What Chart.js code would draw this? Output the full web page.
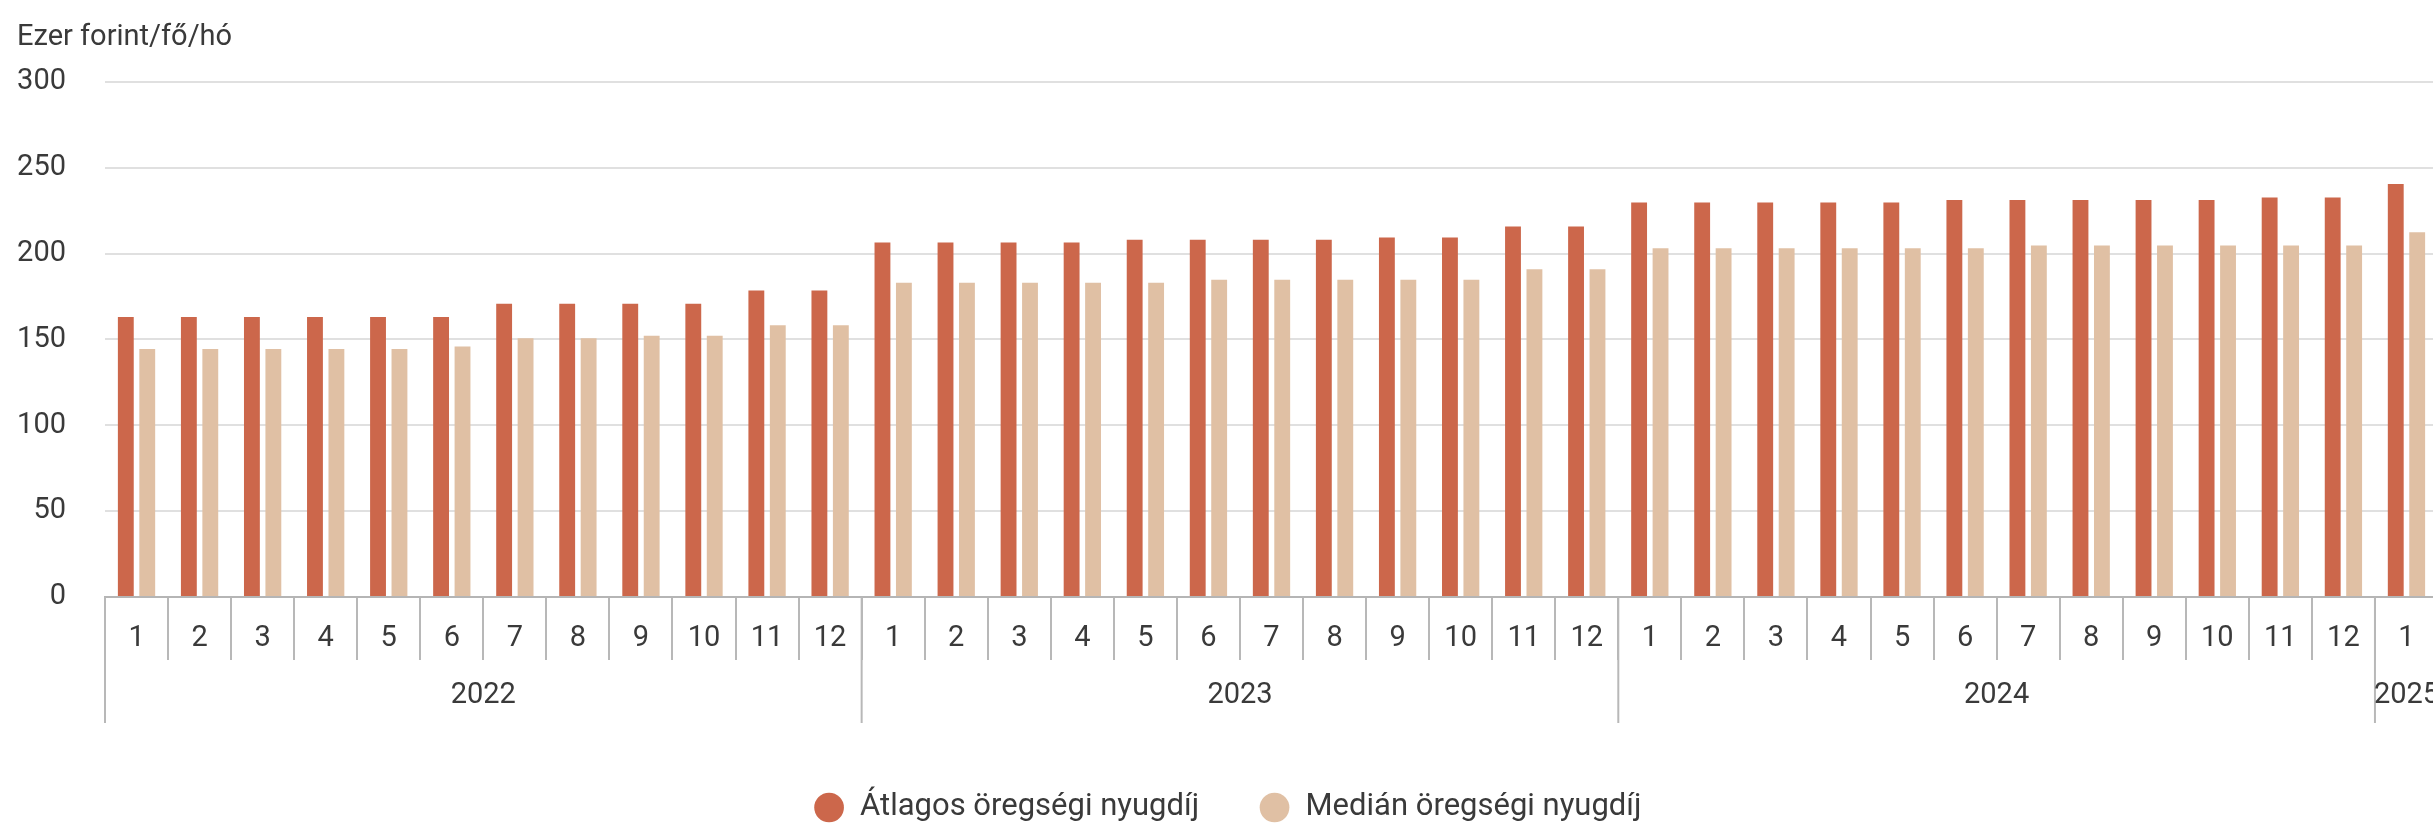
<!DOCTYPE html>
<html>
<head>
<meta charset="utf-8">
<script src="https://cdn.jsdelivr.net/npm/chart.js@4/dist/chart.umd.min.js"></script>
<style>
  html, body { margin: 0; padding: 0; background: #fff; overflow: hidden; }
  #wrap { width: 2446px; height: 826px; position: relative; }
</style>
</head>
<body>
<div id="wrap"><canvas id="chart"></canvas></div>
<script>
// honap + ev kategoriak
const months = ['1','2','3','4','5','6','7','8','9','10','11','12',
                '1','2','3','4','5','6','7','8','9','10','11','12',
                '1','2','3','4','5','6','7','8','9','10','11','12',
                '1'];
const years = ['2022','2022','2022','2022','2022','2022','2022','2022','2022','2022','2022','2022',
               '2023','2023','2023','2023','2023','2023','2023','2023','2023','2023','2023','2023',
               '2024','2024','2024','2024','2024','2024','2024','2024','2024','2024','2024','2024',
               '2025'];

const atlagos = [163, 163, 163, 163, 163, 163, 170.8, 170.8, 170.8, 170.8, 178.5, 178.5,
                 206.4, 206.4, 206.4, 206.4, 208, 208, 208, 208, 209.3, 209.3, 215.7, 215.7,
                 229.7, 229.7, 229.7, 229.7, 229.7, 231.2, 231.2, 231.2, 231.2, 231.2, 232.7, 232.7,
                 240.5];
const median = [144.4, 144.4, 144.4, 144.4, 144.4, 145.9, 150.6, 150.6, 152.1, 152.1, 158.3, 158.3,
                183, 183, 183, 183, 183, 184.7, 184.7, 184.7, 184.7, 184.7, 190.9, 190.9,
                203.1, 203.1, 203.1, 203.1, 203.1, 203.1, 204.7, 204.7, 204.7, 204.7, 204.7, 204.7,
                212.4];

const yTicks = [0, 50, 100, 150, 200, 250, 300];

const textColor = '#3a3a3a';
const fontFamily = 'Roboto, "Liberation Sans", sans-serif';

// evek kiirasa a honapok alatt
const yearBands = {
    id: 'yearBands',
    afterDraw(chart) {
        const x = chart.scales.x;
        const ctx = chart.ctx;
        const half = (x.getPixelForValue(1) - x.getPixelForValue(0)) / 2;
        ctx.save();
        ctx.strokeStyle = '#b8b8b8';
        ctx.lineWidth = 2;
        ctx.fillStyle = textColor;
        ctx.font = '29px ' + fontFamily;
        ctx.textAlign = 'center';
        ctx.textBaseline = 'middle';
        let start = 0;
        for (let i = 1; i <= years.length; i++) {
            if (i === years.length || years[i] !== years[start]) {
                const left = x.getPixelForValue(start) - half;
                const right = x.getPixelForValue(i - 1) + half;
                ctx.beginPath();
                ctx.moveTo(left, x.top);
                ctx.lineTo(left, x.top + 126);
                ctx.stroke();
                ctx.fillText(years[start], (left + right) / 2, x.top + 99);
                start = i;
            }
        }
        ctx.restore();
    }
};

new Chart(document.getElementById('chart'), {
    type: 'bar',
    data: {
        labels: months,
        datasets: [{
            label: 'Átlagos öregségi nyugdíj',
            data: atlagos,
            backgroundColor: '#cc674b',
            categoryPercentage: 0.68,
            barPercentage: 0.74
        }, {
            label: 'Medián öregségi nyugdíj',
            data: median,
            backgroundColor: '#e0c0a4',
            categoryPercentage: 0.68,
            barPercentage: 0.74
        }]
    },
    options: {
        responsive: true,
        maintainAspectRatio: false,
        animation: false,
        layout: { padding: { left: 17, right: 8, top: 0, bottom: 0 } },
        plugins: {
            tooltip: { enabled: false },
            title: {
                display: true,
                text: 'Ezer forint/fő/hó',
                align: 'start',
                color: textColor,
                font: { family: fontFamily, size: 29, weight: 'normal' },
                padding: { top: 20, bottom: 27 }
            },
            legend: {
                position: 'bottom',
                maxHeight: 94,
                labels: {
                    usePointStyle: true,
                    pointStyle: 'circle',
                    boxWidth: 34,
                    boxHeight: 21,
                    padding: 60,
                    color: textColor,
                    font: { family: fontFamily, size: 31 }
                }
            }
        },
        scales: {
            x: {
                offset: true,
                afterFit: (scale) => { scale.height = 135; },
                grid: {
                    offset: true,
                    drawOnChartArea: false,
                    drawTicks: true,
                    tickLength: 63,
                    color: '#b8b8b8',
                    lineWidth: 2
                },
                border: { color: '#b5b5b5', width: 2 },
                ticks: {
                    padding: -39,
                    autoSkip: false,
                    maxRotation: 0,
                    color: textColor,
                    font: { family: fontFamily, size: 29 }
                }
            },
            y: {
                min: 0,
                max: 300,
                afterBuildTicks: (scale) => { scale.ticks = yTicks.map(v => ({ value: v })); },
                afterFit: (scale) => { scale.width = 88; },
                grid: { color: '#e0e0e0', lineWidth: 2, drawTicks: false },
                border: { display: false },
                ticks: {
                    padding: 39,
                    color: textColor,
                    font: { family: fontFamily, size: 29 }
                }
            }
        }
    },
    plugins: [yearBands]
});
</script>
</body>
</html>
